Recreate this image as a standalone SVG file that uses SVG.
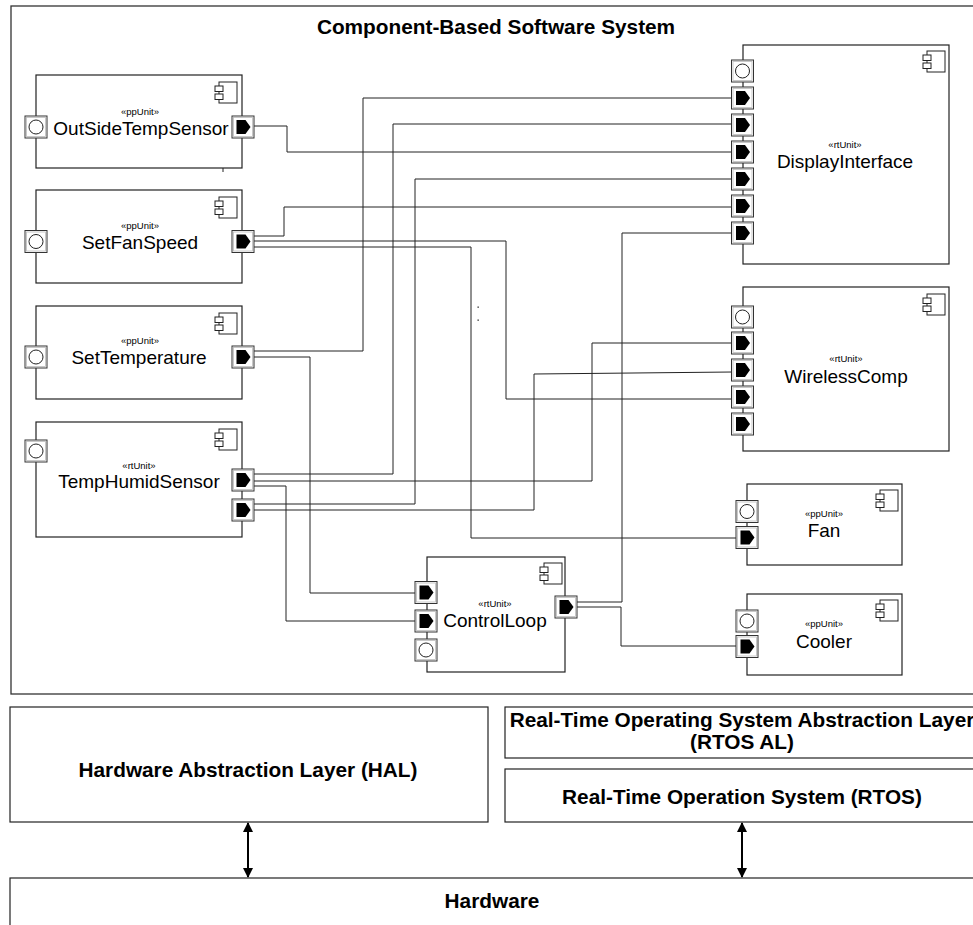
<svg xmlns="http://www.w3.org/2000/svg" xmlns:xlink="http://www.w3.org/1999/xlink" width="973" height="925" viewBox="0 0 973 925">
<style>
.bx{fill:#fff;stroke:#222;stroke-width:1.2}
.ob{fill:#fff;stroke:#333;stroke-width:1.3}
.ps{fill:#fff;stroke:#333;stroke-width:1}
.pi{fill:none;stroke:#bbb;stroke-width:0.8}
.cn{fill:none;stroke:#222;stroke-width:1}
.ic{fill:#fff;stroke:#222;stroke-width:1}
.st{font-family:'Liberation Sans',Arial,Helvetica,sans-serif;font-size:9.5px;text-anchor:middle;fill:#000}
.nm{font-family:'Liberation Sans',Arial,Helvetica,sans-serif;font-size:19px;text-anchor:middle;fill:#000}
.tt{font-family:'Liberation Sans',Arial,Helvetica,sans-serif;font-weight:bold;font-size:20.8px;text-anchor:middle;fill:#000}
</style>
<defs>
<g id="pOut"><rect x="-11" y="-11" width="22" height="22" class="ps"/><rect x="-9.5" y="-9.5" width="19" height="19" class="pi"/><path d="M-6.5,-7 H2.5 L7.5,0 L2.5,7 H-6.5 Z" fill="#000"/></g>
<g id="pIn"><rect x="-11" y="-11" width="22" height="22" class="ps"/><rect x="-9.5" y="-9.5" width="19" height="19" class="pi"/><circle cx="0" cy="0" r="7" fill="#fff" stroke="#222" stroke-width="1"/></g>
<g id="icon"><rect x="4" y="0" width="18" height="21" class="ic"/><rect x="0" y="4" width="8" height="5.5" class="ic"/><rect x="0" y="12" width="8" height="5.5" class="ic"/></g>
<marker id="ah" viewBox="0 0 10 14" refX="9" refY="7" markerWidth="10" markerHeight="14" markerUnits="userSpaceOnUse" orient="auto-start-reverse"><path d="M0,2 L10,7 L0,12 Z" fill="#000"/></marker>
</defs>
<rect width="973" height="925" fill="#fff"/>

<g id="system">
<rect x="11" y="6" width="980" height="688" class="ob"/>
<text x="496" y="34" class="tt">Component-Based Software System</text>
</g>

<g id="connectors">
<polyline class="cn" points="254,126 287,126 287,152 732,152"/>
<polyline class="cn" points="732,98 363,98 363,351 254,351"/>
<polyline class="cn" points="732,124 393,124 393,474 254,474"/>
<polyline class="cn" points="732,179 415,179 415,504 254,504"/>
<polyline class="cn" points="732,207 284,207 284,236 254,236"/>
<polyline class="cn" points="732,233 622,233 622,602 577,602"/>
<polyline class="cn" points="254,241 506,241 506,399 732,399"/>
<polyline class="cn" points="254,247 471,247 471,538 736,538"/>
<polyline class="cn" points="254,357 310,357 310,593 415,593"/>
<polyline class="cn" points="254,481 592,481 592,343 732,343"/>
<polyline class="cn" points="254,486 286,486 286,621 415,621"/>
<polyline class="cn" points="254,510 534,510 534,374 732,372"/>
<polyline class="cn" points="577,607 621,607 621,646 736,646"/>
<line x1="248" y1="823" x2="248" y2="877" stroke="#000" stroke-width="2" marker-start="url(#ah)" marker-end="url(#ah)"/>
<line x1="742" y1="823" x2="742" y2="877" stroke="#000" stroke-width="2" marker-start="url(#ah)" marker-end="url(#ah)"/>
</g>

<g id="marks">
<line x1="223" y1="168" x2="223" y2="172" stroke="#222" stroke-width="1"/>
<rect x="477.5" y="306.5" width="1.3" height="1.3" fill="#222"/>
<rect x="477.5" y="319.5" width="1.3" height="1.3" fill="#222"/>
</g>

<g id="OutSideTempSensor">
<rect x="36" y="75" width="206" height="93" class="bx"/>
<use xlink:href="#icon" x="215" y="82"/>
<use xlink:href="#pIn" x="36" y="127"/>
<use xlink:href="#pOut" x="243" y="127"/>
<text x="140" y="115" class="st">«ppUnit»</text>
<text x="141" y="135" class="nm">OutSideTempSensor</text>
</g>

<g id="SetFanSpeed">
<rect x="36" y="190" width="206" height="93" class="bx"/>
<use xlink:href="#icon" x="215" y="197"/>
<use xlink:href="#pIn" x="36" y="241.5"/>
<use xlink:href="#pOut" x="243" y="241.5"/>
<text x="140" y="229" class="st">«ppUnit»</text>
<text x="140" y="249" class="nm">SetFanSpeed</text>
</g>

<g id="SetTemperature">
<rect x="36" y="306" width="206" height="93" class="bx"/>
<use xlink:href="#icon" x="215" y="313"/>
<use xlink:href="#pIn" x="36" y="357"/>
<use xlink:href="#pOut" x="243" y="357"/>
<text x="140" y="344" class="st">«ppUnit»</text>
<text x="139" y="364" class="nm">SetTemperature</text>
</g>

<g id="TempHumidSensor">
<rect x="36" y="422" width="206" height="115" class="bx"/>
<use xlink:href="#icon" x="215" y="429"/>
<use xlink:href="#pIn" x="36" y="451"/>
<use xlink:href="#pOut" x="243" y="480"/>
<use xlink:href="#pOut" x="243" y="510"/>
<text x="139" y="469" class="st">«rtUnit»</text>
<text x="139" y="488" class="nm">TempHumidSensor</text>
</g>

<g id="DisplayInterface">
<rect x="743" y="45" width="206" height="219" class="bx"/>
<use xlink:href="#icon" x="923" y="51"/>
<use xlink:href="#pIn" x="742.5" y="71"/>
<use xlink:href="#pOut" x="742.5" y="98"/>
<use xlink:href="#pOut" x="742.5" y="125"/>
<use xlink:href="#pOut" x="742.5" y="152"/>
<use xlink:href="#pOut" x="742.5" y="179"/>
<use xlink:href="#pOut" x="742.5" y="206"/>
<use xlink:href="#pOut" x="742.5" y="233"/>
<text x="845" y="148" class="st">«rtUnit»</text>
<text x="845" y="168" class="nm">DisplayInterface</text>
</g>

<g id="WirelessComp">
<rect x="743" y="287" width="206" height="164" class="bx"/>
<use xlink:href="#icon" x="923" y="294"/>
<use xlink:href="#pIn" x="742.5" y="317"/>
<use xlink:href="#pOut" x="742.5" y="343"/>
<use xlink:href="#pOut" x="742.5" y="370"/>
<use xlink:href="#pOut" x="742.5" y="397"/>
<use xlink:href="#pOut" x="742.5" y="424"/>
<text x="846" y="362" class="st">«rtUnit»</text>
<text x="846" y="383" class="nm">WirelessComp</text>
</g>

<g id="Fan">
<rect x="747" y="484" width="155" height="81" class="bx"/>
<use xlink:href="#icon" x="876" y="490"/>
<use xlink:href="#pIn" x="747" y="511.5"/>
<use xlink:href="#pOut" x="747" y="537.5"/>
<text x="824" y="517" class="st">«ppUnit»</text>
<text x="824" y="537" class="nm">Fan</text>
</g>

<g id="Cooler">
<rect x="747" y="594" width="155" height="81" class="bx"/>
<use xlink:href="#icon" x="876" y="600"/>
<use xlink:href="#pIn" x="747" y="621"/>
<use xlink:href="#pOut" x="747" y="646.5"/>
<text x="824" y="627" class="st">«ppUnit»</text>
<text x="824" y="648" class="nm">Cooler</text>
</g>

<g id="ControlLoop">
<rect x="427" y="557" width="138" height="115" class="bx"/>
<use xlink:href="#icon" x="540" y="563"/>
<use xlink:href="#pOut" x="426" y="592.5"/>
<use xlink:href="#pOut" x="426" y="621"/>
<use xlink:href="#pIn" x="426" y="650"/>
<use xlink:href="#pOut" x="566" y="607"/>
<text x="495" y="607" class="st">«rtUnit»</text>
<text x="495" y="627" class="nm">ControlLoop</text>
</g>

<g id="HAL">
<rect x="10" y="707" width="478" height="115" class="bx"/>
<text x="248" y="777" class="tt">Hardware Abstraction Layer (HAL)</text>
</g>

<g id="RTOSAL">
<rect x="505" y="707" width="480" height="51" class="bx"/>
<text x="742" y="727" class="tt">Real-Time Operating System Abstraction Layer</text>
<text x="742" y="749" class="tt">(RTOS AL)</text>
</g>

<g id="RTOS">
<rect x="505" y="769" width="480" height="53" class="bx"/>
<text x="742" y="804" class="tt">Real-Time Operation System (RTOS)</text>
</g>

<g id="Hardware">
<rect x="10" y="878" width="980" height="60" class="bx"/>
<text x="492" y="908" class="tt">Hardware</text>
</g>
</svg>
